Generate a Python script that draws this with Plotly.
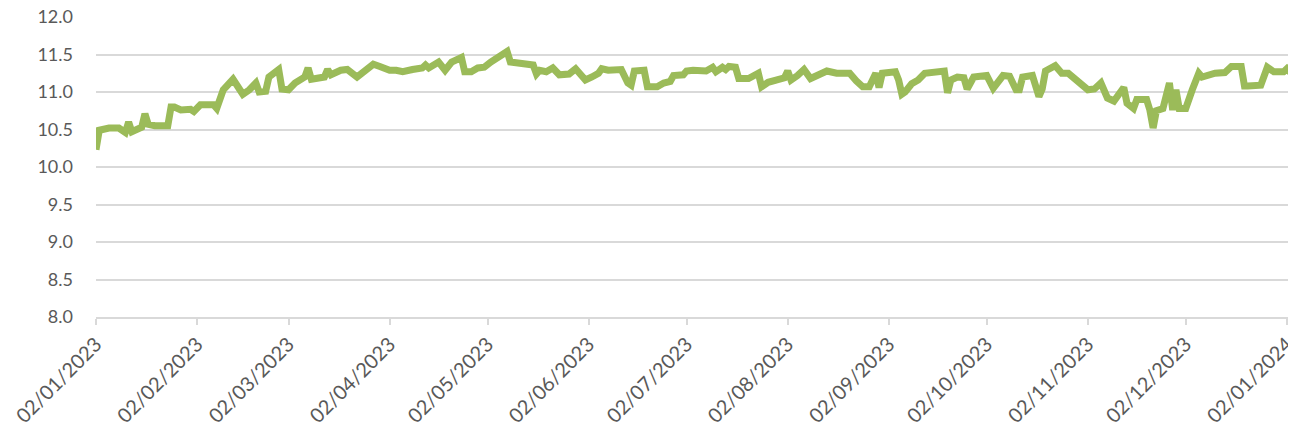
import plotly.graph_objects as go

dates = [
    "2023-01-02", "2023-01-03", "2023-01-06", "2023-01-09", "2023-01-11", "2023-01-12", "2023-01-13",
    "2023-01-16", "2023-01-17", "2023-01-18", "2023-01-20", "2023-01-24", "2023-01-25", "2023-01-26",
    "2023-01-28", "2023-01-31", "2023-02-01", "2023-02-03", "2023-02-07", "2023-02-08", "2023-02-10",
    "2023-02-13", "2023-02-16", "2023-02-18", "2023-02-20", "2023-02-21", "2023-02-23", "2023-02-24",
    "2023-02-27", "2023-02-28", "2023-03-02", "2023-03-04", "2023-03-07", "2023-03-08", "2023-03-09",
    "2023-03-12", "2023-03-13", "2023-03-14", "2023-03-15", "2023-03-18", "2023-03-20", "2023-03-23",
    "2023-03-26", "2023-03-28", "2023-03-30", "2023-04-02", "2023-04-04", "2023-04-06", "2023-04-09",
    "2023-04-12", "2023-04-13", "2023-04-14", "2023-04-17", "2023-04-19", "2023-04-21", "2023-04-24",
    "2023-04-25", "2023-04-27", "2023-04-29", "2023-05-01", "2023-05-03", "2023-05-05", "2023-05-08",
    "2023-05-09", "2023-05-12", "2023-05-16", "2023-05-17", "2023-05-18", "2023-05-20", "2023-05-22",
    "2023-05-24", "2023-05-27", "2023-05-29", "2023-06-01", "2023-06-03", "2023-06-05", "2023-06-06",
    "2023-06-08", "2023-06-12", "2023-06-14", "2023-06-15", "2023-06-16", "2023-06-19", "2023-06-20",
    "2023-06-23", "2023-06-25", "2023-06-27", "2023-06-28", "2023-07-01", "2023-07-02", "2023-07-04",
    "2023-07-08", "2023-07-10", "2023-07-11", "2023-07-13", "2023-07-14", "2023-07-15", "2023-07-17",
    "2023-07-18", "2023-07-21", "2023-07-24", "2023-07-25", "2023-07-27", "2023-07-30", "2023-08-01",
    "2023-08-02", "2023-08-03", "2023-08-05", "2023-08-07", "2023-08-09", "2023-08-12", "2023-08-14",
    "2023-08-17", "2023-08-21", "2023-08-23", "2023-08-25", "2023-08-27", "2023-08-29", "2023-08-30",
    "2023-08-31", "2023-09-04", "2023-09-05", "2023-09-06", "2023-09-07", "2023-09-09", "2023-09-11",
    "2023-09-13", "2023-09-18", "2023-09-19", "2023-09-20", "2023-09-21", "2023-09-23", "2023-09-25",
    "2023-09-26", "2023-09-28", "2023-09-30", "2023-10-02", "2023-10-04", "2023-10-07", "2023-10-09",
    "2023-10-11", "2023-10-12", "2023-10-13", "2023-10-16", "2023-10-18", "2023-10-19", "2023-10-20",
    "2023-10-23", "2023-10-25", "2023-10-27", "2023-10-31", "2023-11-02", "2023-11-04", "2023-11-06",
    "2023-11-08", "2023-11-10", "2023-11-13", "2023-11-14", "2023-11-16", "2023-11-17", "2023-11-20",
    "2023-11-21", "2023-11-22", "2023-11-23", "2023-11-25", "2023-11-27", "2023-11-28", "2023-11-29",
    "2023-11-30", "2023-12-02", "2023-12-04", "2023-12-06", "2023-12-07", "2023-12-11", "2023-12-14",
    "2023-12-16", "2023-12-19", "2023-12-20", "2023-12-21", "2023-12-25", "2023-12-27", "2023-12-29",
    "2024-01-01", "2024-01-02", "2024-01-04",
]

values = [
    10.23, 10.49, 10.52, 10.52, 10.46, 10.60, 10.47,
    10.53, 10.71, 10.57, 10.55, 10.55, 10.80, 10.80,
    10.76, 10.77, 10.74, 10.83, 10.83, 10.78, 11.03,
    11.17, 10.97, 11.03, 11.12, 11.00, 11.01, 11.20,
    11.30, 11.04, 11.03, 11.12, 11.20, 11.32, 11.17,
    11.20, 11.20, 11.30, 11.23, 11.29, 11.30, 11.20,
    11.30, 11.37, 11.34, 11.29, 11.29, 11.27, 11.30,
    11.32, 11.36, 11.32, 11.40, 11.29, 11.40, 11.46,
    11.27, 11.27, 11.32, 11.33, 11.40, 11.45, 11.54,
    11.40, 11.39, 11.36, 11.24, 11.29, 11.27, 11.32,
    11.23, 11.24, 11.31, 11.16, 11.20, 11.25, 11.31,
    11.29, 11.30, 11.12, 11.09, 11.28, 11.29, 11.07,
    11.07, 11.12, 11.14, 11.22, 11.23, 11.28, 11.29,
    11.28, 11.33, 11.27, 11.33, 11.30, 11.34, 11.33,
    11.18, 11.18, 11.25, 11.07, 11.13, 11.16, 11.19,
    11.28, 11.16, 11.22, 11.30, 11.18, 11.25, 11.28,
    11.25, 11.25, 11.15, 11.07, 11.07, 11.25, 11.06,
    11.25, 11.27, 11.16, 10.97, 11.00, 11.11, 11.16,
    11.25, 11.29, 11.28, 10.99, 11.16, 11.20, 11.19,
    11.04, 11.20, 11.21, 11.22, 11.05, 11.22, 11.21,
    11.03, 11.03, 11.20, 11.22, 10.94, 11.04, 11.28,
    11.35, 11.25, 11.25, 11.09, 11.03, 11.04, 11.12,
    10.92, 10.88, 11.06, 10.85, 10.78, 10.90, 10.90,
    10.76, 10.52, 10.75, 10.78, 11.12, 10.76, 11.03,
    10.78, 10.78, 11.03, 11.25, 11.20, 11.25, 11.26,
    11.34, 11.34, 11.08, 11.08, 11.09, 11.33, 11.27,
    11.27, 11.31, 11.22,
]

y_ticks = [8.0, 8.5, 9.0, 9.5, 10.0, 10.5, 11.0, 11.5, 12.0]

fig = go.Figure()
fig.add_trace(go.Scatter(
    x=dates, y=values, mode="lines",
    line=dict(color="#9BBB59", width=7, shape="linear"),
    cliponaxis=True, showlegend=False,
))

# the page body adds an 8px offset, so the figure is sized and margined to compensate
fig.update_layout(
    width=1288, height=427,
    margin=dict(l=88, r=0, t=9, b=118),
    paper_bgcolor="white", plot_bgcolor="white",
    font=dict(family="Lato, Open Sans, sans-serif", size=18, color="#595959"),
)
fig.update_xaxes(
    type="date",
    range=["2023-01-02", "2024-01-04 19:00"],
    tick0="2023-01-02", dtick="M1",
    tickformat="%d/%m/%Y", tickangle=-45,
    showgrid=False, zeroline=False,
    showline=True, linecolor="#D9D9D9", linewidth=1.5,
    ticks="outside", ticklen=6, tickcolor="#D9D9D9", tickwidth=1.5,
    tickfont=dict(size=20, color="#595959"),
    automargin=False, ticklabeloverflow="allow",
)
fig.update_yaxes(
    range=[8, 12.0001],
    tickvals=y_ticks,
    ticktext=[f"{v:.1f}" for v in y_ticks],
    showgrid=True, gridcolor="#D9D9D9", gridwidth=1.5,
    zeroline=False, showline=False, ticks="",
    ticklabelstandoff=22,
    tickfont=dict(size=18, color="#595959"),
    automargin=False, ticklabeloverflow="allow",
)

fig.write_html("out.html")
